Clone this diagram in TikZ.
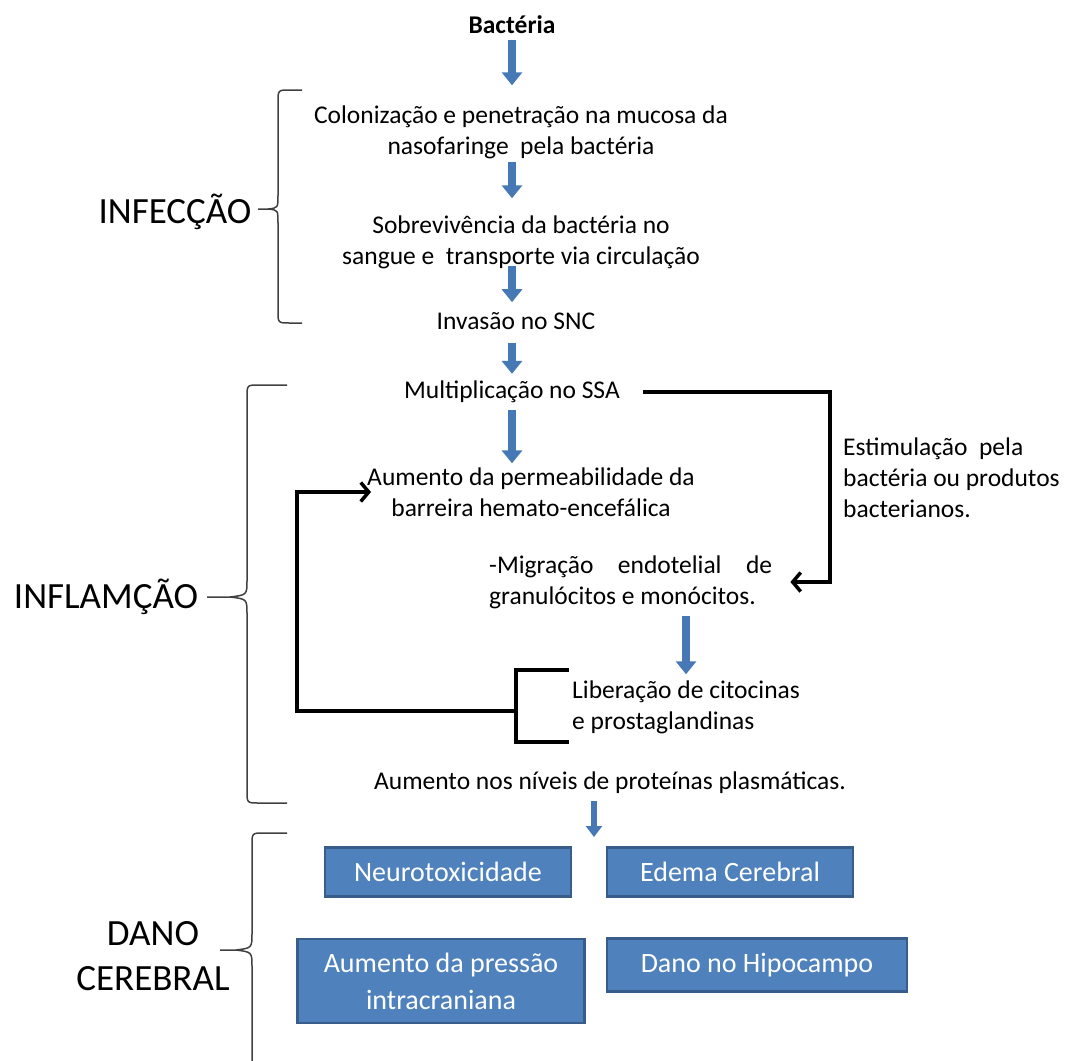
\documentclass[tikz,border=0pt]{standalone}
\usepackage{fontspec}
\setmainfont{Carlito}
\usepackage{xcolor}
\usepackage{tikz}
\usetikzlibrary{arrows.meta}

\definecolor{arrowblue}{RGB}{70,120,182}
\definecolor{boxfill}{RGB}{79,129,189}
\definecolor{boxedge}{RGB}{56,93,138}

\begin{document}
\begin{tikzpicture}[x=1pt,y=-1pt,
  txt/.style={inner sep=0pt,align=center,font=\fontsize{25.5}{31}\selectfont},
  phase/.style={inner sep=0pt,align=center,font=\fontsize{37}{45}\selectfont},
  damage/.style={draw=boxedge,line width=2.5pt,fill=boxfill,text=white,inner sep=0pt,align=center,font=\fontsize{28}{37}\selectfont},
  bluearrow/.style={arrowblue,line width=8pt,-{Triangle[length=13pt,width=20pt]}},
  feedback/.style={line width=3.5pt,-{Straight Barb[length=8pt,width=19pt]}},
  bar/.style={line width=3.5pt},
  curly/.style={black!75,line width=1.5pt}]
\useasboundingbox (0,0) rectangle (1072,1061);
\begin{scope}%[every node/.style={txt}]
    \node[txt,font=\fontsize{25.5}{31}\selectfont\bfseries] (bact) at (512,25) {Bactéria};
    \node[txt] (colon) at (521,132) {Colonização e penetração na mucosa da\\nasofaringe\ \ pela bactéria};
    \node[txt] (sobrev) at (521,242) {Sobrevivência da bactéria no\\sangue e\ \ transporte via circulação};
    \node[txt] (invasao) at (516,321) {Invasão no SNC};
    \node[txt] (multip) at (512,392) {Multiplicação no SSA};
    \node[txt] (aument) at (531,492) {Aumento da permeabilidade da\\barreira hemato-encefálica};
    \node[txt,anchor=west,align=left] (migra) at (489,582) {\makebox[283pt][s]{-Migração endotelial de}\\granulócitos e monócitos.};
    \node[txt,anchor=west,align=left] (liber) at (572,707) {Liberação de citocinas\\e prostaglandinas};
    \node[txt,anchor=west,align=left] (estim) at (843,478) {Estimulação\ \ pela\\bactéria ou produtos\\bacterianos.};
    \node[txt] (niveis) at (610,783) {Aumento nos níveis de proteínas plasmáticas.};
\end{scope}
\node[damage,minimum width=246pt,minimum height=49pt] (neuro) at (448,872) {Neurotoxicidade};
\node[damage,minimum width=246pt,minimum height=49pt] (edema) at (730,872) {Edema Cerebral};
\node[damage,minimum width=287pt,minimum height=84pt] (pressao) at (441,981) {Aumento da pressão\\intracraniana};
\node[damage,minimum width=300pt,minimum height=53pt] (hipoc) at (757,965) {Dano no Hipocampo};
\node[phase] (infec) at (175,212) {INFECÇÃO};
\node[phase] (inflam) at (106,597) {INFLAMÇÃO};
\node[phase] (dano) at (153,956) {DANO\\CEREBRAL};
\coordinate (danotop) at (594,837);
\coordinate (stimx) at (830,0);
\coordinate (loopx) at (297,0);
\coordinate (bk) at (516,711);
% blue steps
\draw[bluearrow,shorten <=6pt,shorten >=20pt] (bact.south) -- (bact.south |- colon.north);
\draw[bluearrow,shorten <=3pt,shorten >=17pt] (colon.south -| bact) -- (sobrev.north -| bact);
\draw[bluearrow,shorten <=-3pt,shorten >=10pt] (sobrev.south -| bact) -- (invasao.north -| bact);
\draw[bluearrow,shorten <=13pt,shorten >=7pt] (invasao.south -| multip) -- (multip.north);
\draw[bluearrow,shorten <=7pt,shorten >=4pt] (multip.south) -- (multip.south |- aument.north);
\draw[bluearrow,shorten <=7pt,shorten >=6pt] (migra.south -| liber) -- (liber.north);
\draw[bluearrow,line width=6pt,-{Triangle[length=11pt,width=16pt]},shorten <=7pt] (niveis.south -| danotop) -- (danotop);
% black loops
\draw[feedback,shorten <=23pt,shorten >=18pt] (multip.east) -| (stimx |- migra.east) -- (migra.east);
\draw[bar] (569,670) -- (516,670) -- (516,742) -- (569,742);
\draw[feedback,shorten >=-4pt] (bk) -| (loopx |- aument.west) -- (aument.west);
% braces
\draw[curly] (302,90) -- (290,90) .. controls (278,90) .. (278,102) -- (278,195) .. controls (278,208) .. (268,209) -- (258,209) -- (268,209) .. controls (278,210) .. (278,223) -- (278,311) .. controls (278,323) .. (290,323) -- (302,323);
\draw[curly] (287,385) -- (259,385) .. controls (247,385) .. (247,397) -- (247,580) .. controls (247,595) .. (230,597) -- (207,597) -- (230,597) .. controls (247,599) .. (247,614) -- (247,791) .. controls (247,803) .. (259,803) -- (287,803);
\draw[curly] (287,833) -- (264,833) .. controls (252,833) .. (252,845) -- (252,933) .. controls (252,948) .. (236,950) -- (220,950) -- (236,950) .. controls (252,952) .. (252,967) -- (252,1061);
\end{tikzpicture}
\end{document}
